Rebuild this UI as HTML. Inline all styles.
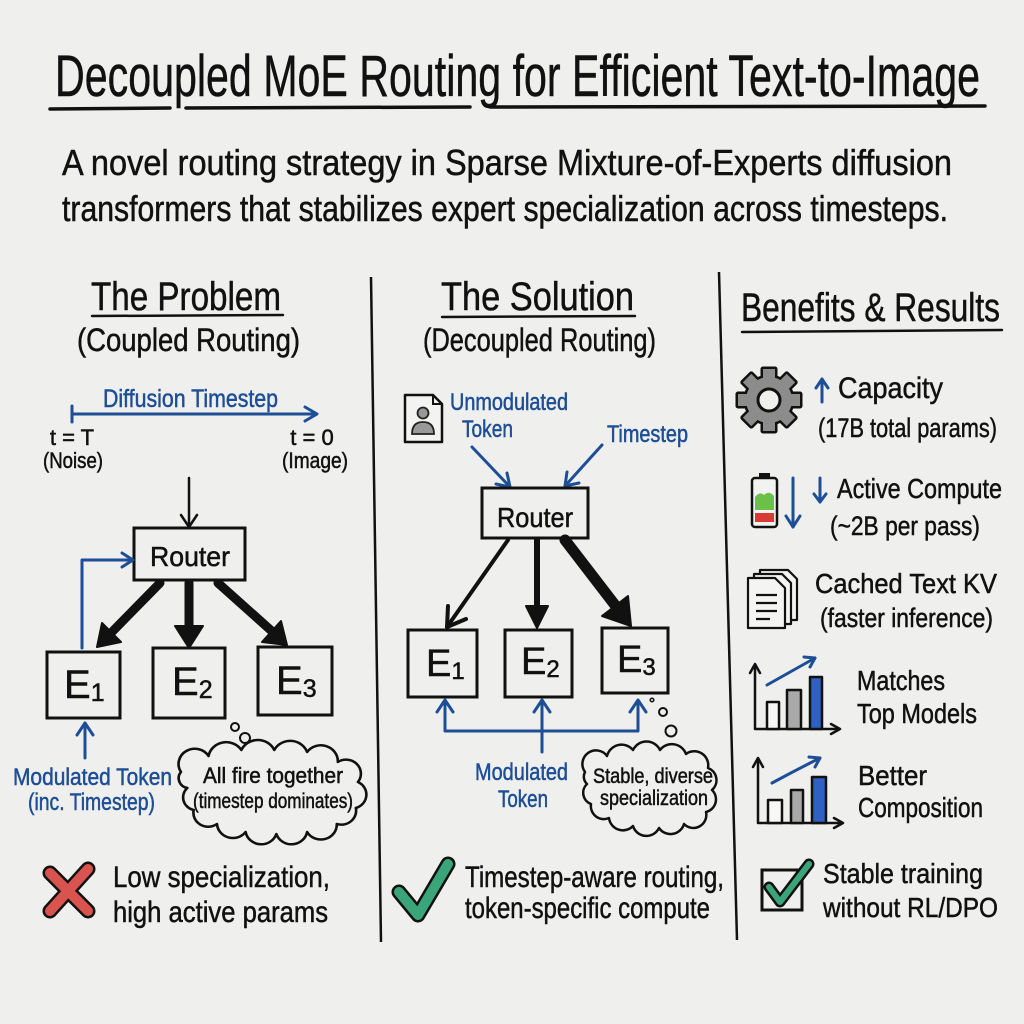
<!DOCTYPE html>
<html><head><meta charset="utf-8">
<style>
html,body{margin:0;padding:0;background:#efefed;}
svg{display:block;}
text{font-family:"Liberation Sans Narrow","Liberation Sans",sans-serif;fill:#111;stroke:#111;stroke-width:0.5;}
.b{fill:#1d4e96;stroke:#1d4e96;}
</style></head>
<body>
<svg width="1024" height="1024" viewBox="0 0 1024 1024" xmlns="http://www.w3.org/2000/svg">
<rect width="1024" height="1024" fill="#efefed"/>

<!-- Title -->
<text x="55" y="96" font-size="58" textLength="925" lengthAdjust="spacingAndGlyphs">Decoupled MoE Routing for Efficient Text-to-Image</text>
<path d="M50 109 L170 108 M186 108 L470 107 M490 107 L985 106" stroke="#111" stroke-width="3.5" fill="none" stroke-linecap="round"/>

<text x="62" y="175" font-size="36" textLength="890" lengthAdjust="spacingAndGlyphs">A novel routing strategy in Sparse Mixture-of-Experts diffusion</text>
<text x="62" y="221" font-size="36" textLength="886" lengthAdjust="spacingAndGlyphs">transformers that stabilizes expert specialization across timesteps.</text>

<!-- Headers -->
<text x="91" y="310" font-size="40" textLength="190" lengthAdjust="spacingAndGlyphs">The Problem</text>
<path d="M92 316 L283 315" stroke="#111" stroke-width="2.5" stroke-linecap="round"/>
<text x="77" y="351" font-size="32" textLength="223" lengthAdjust="spacingAndGlyphs">(Coupled Routing)</text>

<text x="441" y="310" font-size="40" textLength="193" lengthAdjust="spacingAndGlyphs">The Solution</text>
<path d="M442 317 L635 316" stroke="#111" stroke-width="2.5" stroke-linecap="round"/>
<text x="423" y="351" font-size="32" textLength="233" lengthAdjust="spacingAndGlyphs">(Decoupled Routing)</text>

<text x="741" y="321" font-size="40" textLength="259" lengthAdjust="spacingAndGlyphs">Benefits &amp; Results</text>
<path d="M742 332 L1002 330" stroke="#111" stroke-width="2.5" stroke-linecap="round"/>

<!-- Dividers -->
<path d="M371 277 L381 942" stroke="#111" stroke-width="2.5" fill="none"/>
<path d="M719 272 L737 940" stroke="#111" stroke-width="2.5" fill="none"/>

<!-- ===== Column 1 ===== -->
<text x="103" y="407" font-size="25" class="b" textLength="175" lengthAdjust="spacingAndGlyphs">Diffusion Timestep</text>
<g stroke="#1d4e96" stroke-width="3" fill="none" stroke-linecap="round" stroke-linejoin="round">
  <path d="M72 414 H316"/><path d="M72 406 V422"/>
  <path d="M305 407 L317 414 L305 421"/>
</g>
<text x="72" y="445" font-size="22" text-anchor="middle">t = T</text>
<text x="43" y="468" font-size="22" textLength="60" lengthAdjust="spacingAndGlyphs">(Noise)</text>
<text x="312" y="445" font-size="22" text-anchor="middle">t = 0</text>
<text x="282" y="468" font-size="22" textLength="66" lengthAdjust="spacingAndGlyphs">(Image)</text>

<g stroke="#111" stroke-width="2.5" fill="none" stroke-linecap="round" stroke-linejoin="round">
  <path d="M189 478 V527"/><path d="M181 515 L189 527 L197 515"/>
</g>
<rect x="134" y="528" width="111" height="52" fill="none" stroke="#111" stroke-width="3"/>
<text x="150" y="566" font-size="28" textLength="80" lengthAdjust="spacingAndGlyphs">Router</text>

<g stroke="#1d4e96" stroke-width="3" fill="none" stroke-linecap="round" stroke-linejoin="round">
  <path d="M82 648 V560 H132"/><path d="M122 553 L133 560 L122 567"/>
  <path d="M85 758 V723"/><path d="M77 735 L85 723 L93 735"/>
</g>

<!-- thick arrows -->
<g stroke="#111" stroke-width="9" fill="none" stroke-linecap="round">
  <path d="M160 583 L108 636"/>
  <path d="M189 583 L189 632"/>
  <path d="M218 583 L275 634"/>
</g>
<g fill="#111" stroke="#111" stroke-width="2" stroke-linejoin="round">
  <polygon points="97,647 121,642 102,623"/>
  <polygon points="189,648 175,626 203,626"/>
  <polygon points="287,645 262,642 281,621"/>
</g>

<g fill="none" stroke="#111" stroke-width="3">
  <rect x="47" y="652" width="73" height="66"/>
  <rect x="153" y="648" width="72" height="70"/>
  <rect x="258" y="647" width="74" height="68"/>
</g>
<text x="64" y="698" font-size="40">E<tspan font-size="25" dy="3">1</tspan></text>
<text x="172" y="695" font-size="40">E<tspan font-size="25" dy="3">2</tspan></text>
<text x="276" y="694" font-size="40">E<tspan font-size="25" dy="3">3</tspan></text>

<text x="13" y="785" font-size="24" class="b" textLength="159" lengthAdjust="spacingAndGlyphs">Modulated Token</text>
<text x="28" y="810" font-size="24" class="b" textLength="127" lengthAdjust="spacingAndGlyphs">(inc. Timestep)</text>

<circle cx="235" cy="727" r="4" fill="none" stroke="#111" stroke-width="2"/>
<circle cx="245" cy="738" r="5" fill="none" stroke="#111" stroke-width="2"/>
<g transform="translate(270,0) scale(1.06,1) translate(-270,0)">
<path d="M186 772 a14 14 0 0 1 26 -16 a17 17 0 0 1 31 -6 a17 17 0 0 1 31 0 a17 17 0 0 1 31 2 a16 16 0 0 1 29 10 a14 14 0 0 1 19 20 a14 14 0 0 1 -2 26 a14 14 0 0 1 -18 16 a15 15 0 0 1 -28 8 a15 15 0 0 1 -29 2 a15 15 0 0 1 -29 -2 a15 15 0 0 1 -27 -8 a14 14 0 0 1 -22 -14 a13 13 0 0 1 -6 -22 a10 10 0 0 1 -6 -16 Z" fill="none" stroke="#111" stroke-width="2.5" stroke-linejoin="round"/>
</g>
<text x="203" y="783" font-size="22" textLength="140" lengthAdjust="spacingAndGlyphs">All fire together</text>
<text x="193" y="808" font-size="21" textLength="160" lengthAdjust="spacingAndGlyphs">(timestep dominates)</text>

<!-- X -->
<g stroke-linecap="round" fill="none">
  <path d="M50 873 L88 911 M88 869 L50 911" stroke="#111" stroke-width="15"/>
  <path d="M50 873 L88 911 M88 869 L50 911" stroke="#d9534f" stroke-width="10"/>
</g>
<text x="113" y="887" font-size="30" textLength="217" lengthAdjust="spacingAndGlyphs">Low specialization,</text>
<text x="113" y="922" font-size="30" textLength="215" lengthAdjust="spacingAndGlyphs">high active params</text>

<!-- ===== Column 2 ===== -->
<g>
  <path d="M405 395 H433 L442 404 V442 H405 Z" fill="#f3f3f1" stroke="#111" stroke-width="2.5" stroke-linejoin="round"/>
  <path d="M433 395 V404 H442" fill="none" stroke="#111" stroke-width="2"/>
  <circle cx="423" cy="413" r="5.5" fill="#999" stroke="#222" stroke-width="1.8"/>
  <path d="M412 434 q0 -12 11 -12 q11 0 11 12 Z" fill="#999" stroke="#222" stroke-width="1.8"/>
</g>
<text x="450" y="410" font-size="24" class="b" textLength="118" lengthAdjust="spacingAndGlyphs">Unmodulated</text>
<text x="462" y="437" font-size="24" class="b" textLength="51" lengthAdjust="spacingAndGlyphs">Token</text>
<text x="607" y="442" font-size="24" class="b" textLength="81" lengthAdjust="spacingAndGlyphs">Timestep</text>
<g stroke="#1d4e96" stroke-width="3" fill="none" stroke-linecap="round" stroke-linejoin="round">
  <path d="M472 447 L510 487"/><path d="M496 484 L510 487 L507 473"/>
  <path d="M602 445 L565 486"/><path d="M579 483 L565 486 L567 472"/>
</g>

<rect x="482" y="488" width="106" height="50" fill="none" stroke="#111" stroke-width="3"/>
<text x="497" y="527" font-size="28" textLength="76" lengthAdjust="spacingAndGlyphs">Router</text>

<g stroke="#111" fill="none" stroke-linecap="round" stroke-linejoin="round">
  <path d="M508 540 L447 627" stroke-width="4"/>
  <path d="M466 619 L447 627 L448 606" stroke-width="4"/>
  <path d="M537 540 L537 612" stroke-width="6"/>
  <path d="M565 540 L618 609" stroke-width="11"/>
</g>
<g fill="#111" stroke="#111" stroke-width="2" stroke-linejoin="round">
  <polygon points="537,628 526,606 548,606"/>
  <polygon points="631,626 602,616 628,596"/>
</g>

<g fill="none" stroke="#111" stroke-width="3">
  <rect x="408" y="630" width="69" height="67"/>
  <rect x="505" y="630" width="67" height="67"/>
  <rect x="602" y="628" width="66" height="65"/>
</g>
<text x="426" y="676" font-size="38">E<tspan font-size="24" dy="3">1</tspan></text>
<text x="521" y="674" font-size="38">E<tspan font-size="24" dy="3">2</tspan></text>
<text x="617" y="672" font-size="38">E<tspan font-size="24" dy="3">3</tspan></text>

<g stroke="#1d4e96" stroke-width="3" fill="none" stroke-linecap="round" stroke-linejoin="round">
  <path d="M445 701 V731 H638 V701"/>
  <path d="M542 701 V752"/>
  <path d="M437 712 L445 700 L453 712"/>
  <path d="M534 712 L542 700 L550 712"/>
  <path d="M630 712 L638 700 L646 712"/>
</g>
<text x="475" y="780" font-size="24" class="b" textLength="93" lengthAdjust="spacingAndGlyphs">Modulated</text>
<text x="498" y="807" font-size="24" class="b" textLength="50" lengthAdjust="spacingAndGlyphs">Token</text>

<circle cx="652" cy="700" r="1.8" fill="none" stroke="#111" stroke-width="1.5"/>
<circle cx="663" cy="712" r="4" fill="none" stroke="#111" stroke-width="2"/>
<circle cx="671" cy="731" r="5.5" fill="none" stroke="#111" stroke-width="2"/>
<path d="M585 772 a13 13 0 0 1 22 -16 a15 15 0 0 1 26 -6 a15 15 0 0 1 27 0 a15 15 0 0 1 26 4 a14 14 0 0 1 22 14 a13 13 0 0 1 4 22 a13 13 0 0 1 -6 22 a13 13 0 0 1 -22 12 a14 14 0 0 1 -25 4 a14 14 0 0 1 -26 -2 a14 14 0 0 1 -24 -8 a13 13 0 0 1 -18 -14 a12 12 0 0 1 -4 -20 a10 10 0 0 1 -2 -12 Z" fill="none" stroke="#111" stroke-width="2.5" stroke-linejoin="round"/>
<text x="593" y="783" font-size="21" textLength="120" lengthAdjust="spacingAndGlyphs">Stable, diverse</text>
<text x="600" y="805" font-size="21" textLength="108" lengthAdjust="spacingAndGlyphs">specialization</text>

<!-- check -->
<g stroke-linecap="round" stroke-linejoin="round" fill="none">
  <path d="M399 892 L418 915 L448 864" stroke="#111" stroke-width="15"/>
  <path d="M399 892 L418 915 L448 864" stroke="#3ba57a" stroke-width="10"/>
</g>
<text x="465" y="887" font-size="30" textLength="259" lengthAdjust="spacingAndGlyphs">Timestep-aware routing,</text>
<text x="465" y="918" font-size="30" textLength="245" lengthAdjust="spacingAndGlyphs">token-specific compute</text>

<!-- ===== Column 3 ===== -->
<!-- gear -->
<g transform="translate(769,400)">
  <g fill="#111" stroke="#111" stroke-width="5" stroke-linejoin="round">
    <circle r="23"/>
    <rect x="-6" y="-31" width="12" height="14" transform="rotate(0)"/>
    <rect x="-6" y="-31" width="12" height="14" transform="rotate(45)"/>
    <rect x="-6" y="-31" width="12" height="14" transform="rotate(90)"/>
    <rect x="-6" y="-31" width="12" height="14" transform="rotate(135)"/>
    <rect x="-6" y="-31" width="12" height="14" transform="rotate(180)"/>
    <rect x="-6" y="-31" width="12" height="14" transform="rotate(225)"/>
    <rect x="-6" y="-31" width="12" height="14" transform="rotate(270)"/>
    <rect x="-6" y="-31" width="12" height="14" transform="rotate(315)"/>
  </g>
  <g fill="#8c8c8c">
    <circle r="23"/>
    <rect x="-6" y="-31" width="12" height="14" transform="rotate(0)"/>
    <rect x="-6" y="-31" width="12" height="14" transform="rotate(45)"/>
    <rect x="-6" y="-31" width="12" height="14" transform="rotate(90)"/>
    <rect x="-6" y="-31" width="12" height="14" transform="rotate(135)"/>
    <rect x="-6" y="-31" width="12" height="14" transform="rotate(180)"/>
    <rect x="-6" y="-31" width="12" height="14" transform="rotate(225)"/>
    <rect x="-6" y="-31" width="12" height="14" transform="rotate(270)"/>
    <rect x="-6" y="-31" width="12" height="14" transform="rotate(315)"/>
  </g>
  <circle r="11" fill="#efefed" stroke="#111" stroke-width="3"/>
</g>
<g stroke="#1d4e96" stroke-width="3" fill="none" stroke-linecap="round" stroke-linejoin="round">
  <path d="M822 402 V380"/><path d="M816 388 L822 379 L828 388"/>
  <path d="M793 478 V527"/><path d="M786 516 L793 527 L800 516"/>
  <path d="M820 478 V502"/><path d="M814 494 L820 502 L826 494"/>
</g>
<text x="838" y="398" font-size="30" textLength="105" lengthAdjust="spacingAndGlyphs">Capacity</text>
<text x="818" y="437" font-size="27" textLength="179" lengthAdjust="spacingAndGlyphs">(17B total params)</text>

<!-- battery -->
<g>
  <rect x="759" y="473" width="11" height="6" fill="#111"/>
  <rect x="752" y="478" width="25" height="49" rx="3" fill="#f2f2f0" stroke="#111" stroke-width="2.5"/>
  <path d="M755 497 q5 -6 9 -2 q5 -5 10 1 V510 H755 Z" fill="#6cc04a"/>
  <rect x="755" y="513" width="19" height="9" fill="#d83a35"/>
</g>
<text x="837" y="498" font-size="28" textLength="165" lengthAdjust="spacingAndGlyphs">Active Compute</text>
<text x="830" y="535" font-size="27" textLength="150" lengthAdjust="spacingAndGlyphs">(~2B per pass)</text>

<!-- docs -->
<g stroke="#111" stroke-width="2.2" fill="#f4f4f2" stroke-linejoin="round">
  <path d="M760 570 H788 L797 579 V620 H760 Z"/>
  <path d="M754 574 H782 L791 583 V624 H754 Z"/>
  <path d="M748 578 H775 L785 588 V628 H748 Z"/>
  <path d="M756 595 H777 M756 603 H777 M756 611 H777 M756 619 H770" fill="none"/>
</g>
<text x="815" y="593" font-size="28" textLength="182" lengthAdjust="spacingAndGlyphs">Cached Text KV</text>
<text x="820" y="627" font-size="27" textLength="173" lengthAdjust="spacingAndGlyphs">(faster inference)</text>

<!-- chart 1 -->
<g stroke="#111" stroke-width="2.5" fill="none" stroke-linecap="round" stroke-linejoin="round">
  <path d="M755 666 V729 H839"/>
  <path d="M750 673 L755 664 L760 673"/>
  <path d="M831 724 L840 729 L831 734"/>
  <rect x="767" y="702" width="12" height="27" fill="#f7f7f5"/>
  <rect x="787" y="690" width="14" height="39" fill="#a9a9a9"/>
  <rect x="810" y="677" width="12" height="52" fill="#2f62c0"/>
</g>
<g stroke="#1d4e96" stroke-width="3" fill="none" stroke-linecap="round" stroke-linejoin="round">
  <path d="M767 685 Q790 672 815 658"/><path d="M804 657 L815 658 L810 667"/>
</g>
<text x="857" y="690" font-size="28" textLength="88" lengthAdjust="spacingAndGlyphs">Matches</text>
<text x="857" y="723" font-size="28" textLength="120" lengthAdjust="spacingAndGlyphs">Top Models</text>

<!-- chart 2 -->
<g stroke="#111" stroke-width="2.5" fill="none" stroke-linecap="round" stroke-linejoin="round">
  <path d="M758 759 V823 H842"/>
  <path d="M753 767 L758 758 L763 767"/>
  <path d="M834 818 L843 823 L834 828"/>
  <rect x="768" y="800" width="14" height="23" fill="#f7f7f5"/>
  <rect x="791" y="790" width="12" height="33" fill="#a9a9a9"/>
  <rect x="812" y="777" width="14" height="46" fill="#2f62c0"/>
</g>
<g stroke="#1d4e96" stroke-width="3" fill="none" stroke-linecap="round" stroke-linejoin="round">
  <path d="M772 783 Q796 770 820 758"/><path d="M809 757 L820 758 L815 767"/>
</g>
<text x="858" y="785" font-size="28" textLength="69" lengthAdjust="spacingAndGlyphs">Better</text>
<text x="858" y="817" font-size="28" textLength="125" lengthAdjust="spacingAndGlyphs">Composition</text>

<!-- checkbox -->
<rect x="762" y="870" width="40" height="40" fill="none" stroke="#111" stroke-width="3"/>
<g stroke-linecap="round" stroke-linejoin="round" fill="none">
  <path d="M769 887 L780 902 L809 864" stroke="#111" stroke-width="11"/>
  <path d="M769 887 L780 902 L809 864" stroke="#3ba57a" stroke-width="6"/>
</g>
<text x="823" y="883" font-size="28" textLength="160" lengthAdjust="spacingAndGlyphs">Stable training</text>
<text x="823" y="917" font-size="28" textLength="175" lengthAdjust="spacingAndGlyphs">without RL/DPO</text>
</svg>
</body></html>
